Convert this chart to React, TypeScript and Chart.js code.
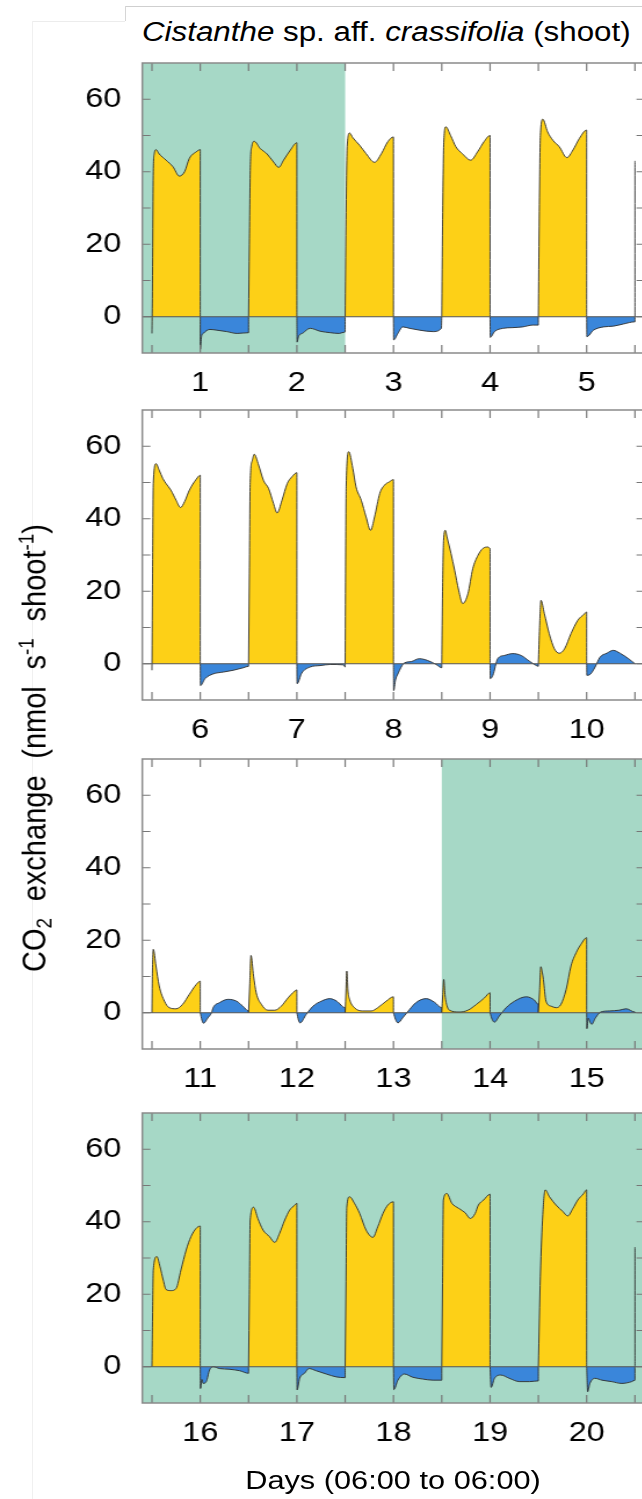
import React, { useEffect, useRef } from "react";
import { Chart, registerables } from "chart.js";

Chart.register(...registerables);

type P = [number, number][];

// ---- Data: [hour after period start, CO2 exchange] ----
// Light period (06:00-18:00) of each day
const L01: P = [[0,-4.6],[0.1,5],[0.33,40],[0.58,45],[1.0,46.1],[1.8,44.9],[3.5,43.2],[5.2,41.4],[6.8,38.8],[8.1,40],[9.3,43.7],[11,45.5],[12,46.1],[12,0]];
const L02: P = [[0,0],[0.2,20],[0.45,42],[0.8,47],[1.4,48.4],[2.9,46.4],[4.6,44.9],[6.2,42.7],[7.5,41.2],[8.7,43.2],[10.4,46],[12,48],[12,0]];
const L03: P = [[0,0],[0.2,25],[0.5,47],[1.1,50.7],[1.9,49.4],[3.6,47.3],[5.2,45],[7.3,42.6],[9,45],[10.6,48.3],[12,49.6],[12,0]];
const L04: P = [[0,0],[0.2,25],[0.5,48],[1.0,52.4],[2.2,50],[3.5,46.9],[5.1,45],[7.2,43.2],[8.9,45.5],[10.5,48.3],[12,50],[12,0]];
const L05: P = [[0,0],[0.2,25],[0.5,50],[1.1,54.5],[2.3,51],[3.6,48.7],[5.2,46.9],[7.1,43.9],[8.6,46],[10.2,49.2],[12,51.5],[12,0]];
const L06: P = [[0,-1.8],[0.15,25],[0.33,49.7],[1.0,55.2],[1.8,53.4],[2.7,51.1],[3.5,49.7],[4.7,47.9],[6.0,45.1],[7.1,43.1],[8.1,44.7],[9.3,47.9],[11,50.9],[12,52],[12,0]];
const L07: P = [[0,0],[0.2,25],[0.4,50],[0.9,56],[1.4,57.8],[2.5,54.8],[3.7,50.6],[5,48.3],[6.2,44.2],[7.1,41.6],[8.3,45.1],[9.6,49.7],[10.8,51.6],[12,52.7],[12,0]];
const L08: P = [[0,0],[0.1,25],[0.25,48.8],[0.9,58.5],[1.9,53.9],[2.7,48.8],[4,45.1],[5.2,40.5],[6.3,36.8],[7.3,40.5],[8.6,47],[9.8,49.3],[11,50.2],[12,50.8],[12,0]];
const L09: P = [[0,0],[0.2,20],[0.45,34],[0.9,36.8],[1.3,35],[2.3,30.4],[3.2,25.8],[4.2,20.3],[5.2,16.6],[6.5,19.3],[7.7,26.2],[9,29.9],[10.2,31.8],[11.5,32.2],[12,31.8],[12,0]];
const L10: P = [[0,0],[0.3,10],[0.65,17.5],[1.5,13.8],[2.7,8.3],[4,4.1],[5.2,2.9],[6.5,4.1],[8.1,8.3],[9.8,12],[11.5,13.8],[12,14.3],[12,0]];
const L11: P = [[0,0],[0.1,10],[0.33,17.5],[1.0,12.9],[1.8,7.4],[3.1,3.2],[4.3,1.4],[6,1.1],[7.6,2.3],[9.3,5.1],[11,7.8],[12,8.7],[12,0]];
const L12: P = [[0,0],[0.3,8],[0.6,15.8],[1.25,10.1],[1.9,5.5],[3.2,2.3],[4.8,0.7],[6.5,0.7],[8.1,1.8],[9.8,4.1],[11.5,6],[12,6.3],[12,0]];
const L13: P = [[0,0],[0.2,6],[0.4,11.5],[0.7,6],[1.1,3.7],[2.3,1.4],[4.4,0.5],[6.5,0.5],[8.1,1.4],[10.2,3.2],[12,4.4],[12,0]];
const L14: P = [[0,0],[0.25,5],[0.5,9.2],[0.8,5],[1.1,2.8],[1.9,0.7],[4.4,0.2],[6.5,0.7],[8.6,2.3],[10.6,4.1],[12,5.5],[12,0]];
const L15: P = [[0,0],[0.3,6],[0.6,12.7],[1.0,11],[1.25,9.2],[1.9,3.2],[3.2,1.8],[4.4,1.4],[5.6,2.3],[6.9,6.4],[8.1,12.9],[9.4,16.6],[10.6,18.9],[12,20.7],[12,0]];
const L16: P = [[0,0],[0.15,14],[0.33,26.7],[1.2,30.4],[2,27.6],[2.8,23.9],[3.5,21.3],[4.7,21],[6,21.6],[7.2,26.7],[8.5,32.2],[9.7,35.9],[11,38.2],[12,38.8],[12,0]];
const L17: P = [[0,0],[0.2,20],[0.4,40.5],[1.25,44],[2.3,40.9],[3.6,37.7],[5.2,35.9],[6.5,34.3],[7.7,36.8],[9,40.5],[10.2,43.2],[11.5,44.6],[12,45.1],[12,0]];
const L18: P = [[0,0],[0.2,22],[0.4,44],[1.1,46.9],[2.3,45.1],[3.6,42.3],[5.2,37.7],[6.9,35.7],[8.1,38.6],[9.4,42.3],[10.6,44.6],[12,45.5],[12,0]];
const L19: P = [[0,0],[0.2,23],[0.4,46],[1.25,47.8],[2.5,45.1],[4.2,43.7],[5.8,42.5],[7.1,40.9],[8.3,42.3],[9.1,44.6],[10.4,46],[12,47.6],[12,0]];
const L20: P = [[0,0],[0.5,25],[1.1,42],[1.7,48.8],[2.75,46.9],[4.4,44.6],[6.1,42.8],[7.3,41.6],[8.6,43.7],[9.8,46],[11.2,47.7],[12,48.8],[12,0]];

// Dark period (18:00-06:00) of each day
const N01: P = [[0,0],[0,-9],[0.3,-5.5],[0.75,-4.6],[2.4,-3.5],[4.1,-3.7],[6.6,-4.1],[9.1,-4.6],[12,-4.4],[12,0]];
const N02: P = [[0,0],[0.05,-7],[0.4,-5.5],[1.5,-4.5],[3.3,-3.2],[5.8,-4],[8.3,-4.4],[10.5,-4.6],[12,-4.2],[12,0]];
const N03: P = [[0,0],[0.05,-6.4],[1.1,-4.6],[2.3,-2.8],[4,-3.2],[6.5,-3.7],[9.8,-4.1],[11.9,-3.2],[12,0]];
const N04: P = [[0,0],[0.05,-5.7],[1.1,-4.1],[3.2,-3.2],[5.6,-3],[8.1,-2.8],[10.6,-2.3],[12,-2.3],[12,0]];
const N05: P = [[0,0],[0.05,-5.5],[1.7,-3.7],[4.2,-2.8],[6.6,-2.6],[9.1,-2],[12,-1.4],[12,0]];
const N06: P = [[0,0],[0.05,-6],[1.2,-4.1],[3.2,-2.8],[5.7,-2.3],[8.2,-1.8],[10.7,-1.1],[12,-0.7],[12,0]];
const N07: P = [[0,0],[0.05,-5.5],[1.2,-2.6],[3.3,-0.9],[5.8,-0.5],[8.3,-0.2],[11.5,-0.3],[12,-0.9],[12,0]];
const N08: P = [[0,0],[0.05,-7.4],[0.5,-4.5],[1.1,-2.8],[2.7,0.2],[4.4,0.6],[6.4,1.4],[8.5,0.9],[10.6,-0.2],[12,-1.1],[12,0]];
const N09: P = [[0,0],[0.05,-4.1],[0.7,-3.2],[1.9,1.4],[3.6,2.3],[5.6,2.8],[7.7,2.3],[9.8,0.7],[11.5,-0.5],[12,-0.7],[12,0]];
const N10: P = [[0,0],[0.05,-3.2],[1,-2.8],[2.1,-0.9],[3.3,1.8],[5,2.9],[6.6,3.7],[8.3,2.9],[10.4,1.4],[12,0]];
const N11: P = [[0,0],[0.4,-2],[0.8,-2.9],[1.9,-1.4],[2.8,0],[3.2,1.4],[4.8,2.8],[6.9,3.7],[9,3.2],[10.6,1.8],[12,0.5],[12,0]];
const N12: P = [[0,0],[0.4,-2],[0.8,-2.8],[2.3,-0.5],[4,1.8],[6.1,3.2],[8.2,3.9],[9.9,3.2],[12,1.4],[12,0]];
const N13: P = [[0,0],[0.5,-1.8],[1.1,-2.8],[2.3,-1.4],[4,0.9],[5.6,2.8],[8.1,3.9],[10.2,2.9],[12,1.4],[12,0]];
const N14: P = [[0,0],[0.5,-1.8],[1.1,-2.6],[2.3,-0.9],[4,1.4],[6.1,3.2],[9,4.4],[11,3.5],[12,2.3],[12,0]];
const N15: P = [[0,0],[0.05,-4.4],[0.4,-1.5],[0.8,-2.5],[1.25,-3.2],[2.2,-1.4],[3.5,0.2],[5.6,0.5],[8.1,0.7],[9.8,1.1],[12,0.2],[12,0]];
const N16: P = [[0,0],[0.05,-6],[0.4,-3.5],[0.7,-4.6],[1.5,-4.1],[2.3,-0.9],[3.2,0],[4.8,-0.5],[7.3,-0.7],[9.8,-1.1],[12,-1.8],[12,0]];
const N17: P = [[0,0],[0.05,-6.4],[0.7,-3.2],[1.9,-1.8],[3,-0.5],[4.8,-1.1],[7.3,-2],[9.8,-2.8],[12,-3],[12,0]];
const N18: P = [[0,0],[0.1,-6.3],[1.1,-3.7],[2.7,-2],[4.8,-2.9],[7.3,-3.4],[9.8,-3.7],[12,-3.7],[12,0]];
const N19: P = [[0,0],[0.25,-5.7],[1.1,-3.2],[2.7,-2.3],[4.8,-3.2],[7.3,-4.1],[9.8,-4.1],[12,-3.9],[12,0]];
const N20: P = [[0,0],[0.25,-6.9],[0.8,-4.6],[2.1,-3.2],[3.8,-3.7],[6.2,-4.1],[8.7,-4.6],[11.2,-4.1],[12,-3.7],[12,0]];

// Start of the following day visible at the right edge of panels 1 and 4
const TAIL_DAY6: P = [[0,0],[0,43]];
const TAIL_DAY21: P = [[0,0],[0,33]];

const LIGHT: P[] = [L01,L02,L03,L04,L05,L06,L07,L08,L09,L10,L11,L12,L13,L14,L15,L16,L17,L18,L19,L20];
const DARK: P[] = [N01,N02,N03,N04,N05,N06,N07,N08,N09,N10,N11,N12,N13,N14,N15,N16,N17,N18,N19,N20];

const PANEL_DAYS: number[][] = [[1,2,3,4,5],[6,7,8,9,10],[11,12,13,14,15],[16,17,18,19,20]];
const PANEL_TAILS: [number, P][][] = [[[6, TAIL_DAY6]], [], [], [[21, TAIL_DAY21]]];
const PANEL_XMIN = [0.4, 5.4, 10.4, 15.4];
const PANEL_XMAX = [5.6, 10.6, 15.6, 20.6];
const PANEL_SHADE: [number, number][][] = [[[0.4, 2.5]], [], [[13.5, 15.6]], [[15.4, 20.6]]];
const Y_TICKS = [0, 20, 40, 60];

// ---- Styling / layout ----
const FONT = '"Liberation Sans", Arial, Helvetica, sans-serif';
const YELLOW = "#FDD017";
const BLUE = "#3A86DA";
const GREEN = "#A6D8C6";
const S = 1.16; // horizontal stretch of the original figure
const PLOT_TOPS = [63, 410, 759, 1113];
const PLOT_H = 290;
const PAD_TOP = 10;
const CH = 350;
const IW = 569;
const PLOT_LEFT = 142.3 / S;
const PLOT_RIGHT = 644.6 / S;

function buildSeries(days: number[], arrs: P[], offset: number, tails: [number, P][]) {
  const out: { x: number; y: number | null }[] = [];
  days.forEach((d) => {
    for (const [h, v] of arrs[d - 1]) out.push({ x: d + offset + h / 24, y: v });
    out.push({ x: d + offset + 0.5, y: null });
  });
  for (const [d, pts] of tails) {
    for (const [h, v] of pts) out.push({ x: d + offset + h / 24, y: v });
    out.push({ x: d + offset + 0.5, y: null });
  }
  return out;
}

const framePlugin = {
  id: "frame",
  beforeDatasetsDraw(chart: any, _args: any, opts: any) {
    const { ctx, chartArea: a, scales } = chart;
    const x = scales.x;
    ctx.save();
    ctx.fillStyle = GREEN;
    for (const [s, e] of opts.shade || []) {
      const x0 = Math.max(a.left, x.getPixelForValue(s));
      const x1 = Math.min(a.right, x.getPixelForValue(e));
      ctx.fillRect(x0, a.top, x1 - x0, a.bottom - a.top);
    }
    ctx.restore();
  },
  afterDatasetsDraw(chart: any) {
    const { ctx, chartArea: a, scales } = chart;
    const x = scales.x;
    const y = scales.y;
    ctx.save();
    // zero line
    ctx.strokeStyle = "#555";
    ctx.lineWidth = 1;
    const y0 = y.getPixelForValue(0);
    ctx.beginPath();
    ctx.moveTo(a.left, y0);
    ctx.lineTo(a.right, y0);
    ctx.stroke();
    // ticks
    ctx.strokeStyle = "#777";
    ctx.lineWidth = 1.2;
    const tl = 7;
    ctx.beginPath();
    for (let v = 0; v <= 60; v += 10) {
      const py = y.getPixelForValue(v);
      ctx.moveTo(a.left, py);
      ctx.lineTo(a.left + tl, py);
      ctx.moveTo(a.right, py);
      ctx.lineTo(a.right - tl, py);
    }
    const start = Math.ceil(x.min * 2) / 2;
    for (let v = start; v <= x.max + 1e-9; v += 0.5) {
      const px = x.getPixelForValue(v);
      ctx.moveTo(px, a.top);
      ctx.lineTo(px, a.top + 8);
      ctx.moveTo(px, a.bottom);
      ctx.lineTo(px, a.bottom - 8);
    }
    ctx.stroke();
    // border
    ctx.strokeStyle = "#8a8a8a";
    ctx.lineWidth = 1.5;
    ctx.strokeRect(a.left, a.top, a.right - a.left, a.bottom - a.top);
    ctx.restore();
  },
};

function Panel({ idx }: { idx: number }) {
  const ref = useRef<HTMLCanvasElement>(null);
  useEffect(() => {
    const days = PANEL_DAYS[idx];
    const lightTails = PANEL_TAILS[idx];
    const chart = new Chart(ref.current!, {
      type: "line",
      data: {
        datasets: [
          {
            data: buildSeries(days, LIGHT, -0.5, lightTails) as any,
            borderColor: "rgba(45,45,45,0.9)",
            borderWidth: 1,
            backgroundColor: YELLOW,
            fill: "origin",
            pointRadius: 0,
            cubicInterpolationMode: "monotone",
            spanGaps: false,
          },
          {
            data: buildSeries(days, DARK, 0, []) as any,
            borderColor: "rgba(45,45,45,0.9)",
            borderWidth: 1,
            backgroundColor: BLUE,
            fill: "origin",
            pointRadius: 0,
            cubicInterpolationMode: "monotone",
            spanGaps: false,
          },
        ],
      },
      options: {
        responsive: false,
        animation: false,
        events: [],
        layout: { padding: { top: PAD_TOP, right: IW - PLOT_RIGHT, left: 0, bottom: 0 } },
        plugins: {
          legend: { display: false },
          tooltip: { enabled: false },
          frame: { shade: PANEL_SHADE[idx] },
        } as any,
        scales: {
          x: {
            type: "linear",
            min: PANEL_XMIN[idx],
            max: PANEL_XMAX[idx],
            grid: { display: false, drawTicks: false },
            border: { display: false },
            afterBuildTicks: (s: any) => {
              s.ticks = days.map((v) => ({ value: v }));
            },
            afterFit: (s: any) => {
              s.height = CH - PAD_TOP - PLOT_H;
              s.paddingLeft = 0;
              s.paddingRight = 0;
            },
            ticks: {
              autoSkip: false,
              maxRotation: 0,
              padding: 13,
              color: "#000",
              font: { family: FONT, size: 28 },
              callback: (v: any) => String(v),
            },
          },
          y: {
            type: "linear",
            min: -10,
            max: 70,
            grid: { display: false, drawTicks: false },
            border: { display: false },
            afterBuildTicks: (s: any) => {
              s.ticks = Y_TICKS.map((v) => ({ value: v }));
            },
            afterFit: (s: any) => {
              s.width = PLOT_LEFT;
              s.paddingTop = 0;
              s.paddingBottom = 0;
            },
            ticks: {
              padding: 18,
              color: "#000",
              font: { family: FONT, size: 28 },
              callback: (v: any) => String(v),
            },
          },
        },
      },
      plugins: [framePlugin as any],
    });
    return () => chart.destroy();
  }, [idx]);
  return (
    <canvas
      ref={ref}
      width={IW}
      height={CH}
      style={{
        position: "absolute",
        left: 0,
        top: PLOT_TOPS[idx] - PAD_TOP,
        width: IW,
        height: CH,
        transform: `scaleX(${S})`,
        transformOrigin: "0 0",
      }}
    />
  );
}

export default function App() {
  const sup: React.CSSProperties = { fontSize: "0.65em", position: "relative", top: "-0.6em" };
  const sub: React.CSSProperties = { fontSize: "0.65em", position: "relative", top: "0.25em" };
  return (
    <div
      style={{
        position: "absolute",
        left: 0,
        top: 0,
        width: 642,
        height: 1499,
        overflow: "hidden",
        background: "#fff",
        fontFamily: FONT,
        color: "#000",
      }}
    >
      {/* faint frame of the original figure */}
      <div style={{ position: "absolute", left: 125, top: 6, width: 517, height: 0, borderTop: "1px solid #cfcfcf" }} />
      <div style={{ position: "absolute", left: 125, top: 6, width: 0, height: 15, borderLeft: "1px solid #d6d6d6" }} />
      <div style={{ position: "absolute", left: 32, top: 21, width: 93, height: 0, borderTop: "1px solid #ececec" }} />
      <div style={{ position: "absolute", left: 32, top: 21, width: 0, height: 1478, borderLeft: "1px solid #f0f0f0" }} />

      {PANEL_DAYS.map((_, i) => (
        <Panel key={i} idx={i} />
      ))}

      <div
        style={{
          position: "absolute",
          left: 142,
          top: 19,
          fontSize: 27,
          lineHeight: 1,
          whiteSpace: "nowrap",
          transform: `scaleX(${S})`,
          transformOrigin: "0 0",
        }}
      >
        <i>Cistanthe</i> sp. aff. <i>crassifolia</i> (shoot)
      </div>

      <div
        style={{
          position: "absolute",
          left: 0,
          width: 786,
          top: 1466.6,
          fontSize: 26.5,
          lineHeight: 1,
          whiteSpace: "nowrap",
          textAlign: "center",
          transform: `scaleX(${S})`,
          transformOrigin: "393px 0",
        }}
      >
        Days (06:00 to 06:00)
      </div>

      <div
        style={{
          position: "absolute",
          left: 35,
          top: 747.5,
          fontSize: 29,
          lineHeight: 1,
          whiteSpace: "nowrap",
          wordSpacing: "0.3em",
          transformOrigin: "0 0",
          transform: `scaleX(${S}) rotate(-90deg) translate(-50%, -50%)`,
        }}
      >
        CO<span style={sub}>2</span> exchange (nmol s<span style={sup}>-1</span> shoot<span style={sup}>-1</span>)
      </div>
    </div>
  );
}
